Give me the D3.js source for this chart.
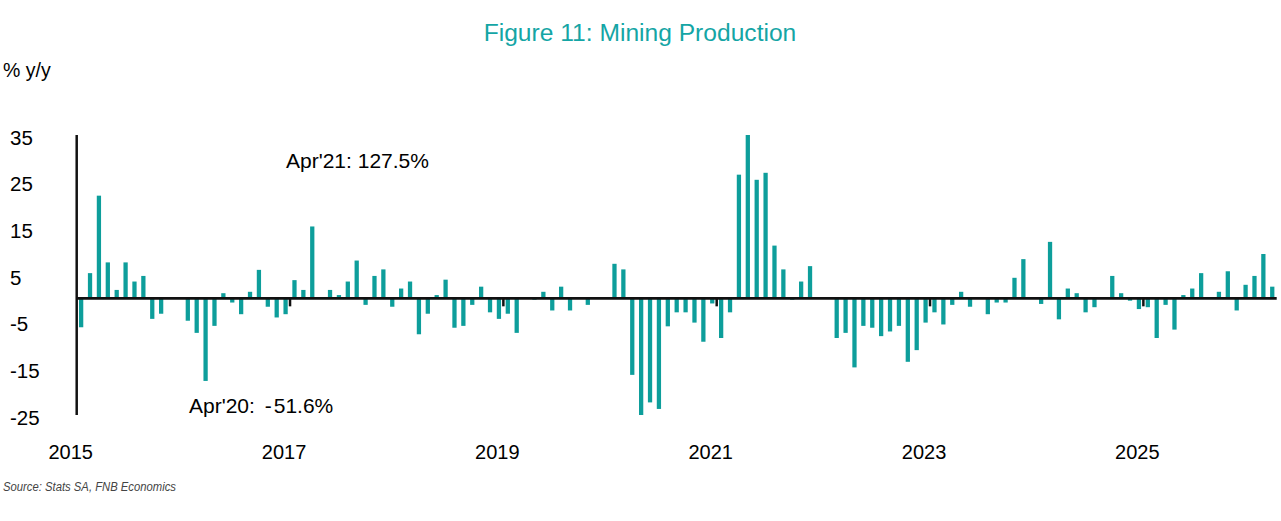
<!DOCTYPE html>
<html><head><meta charset="utf-8">
<script src="https://cdn.jsdelivr.net/npm/d3@7/dist/d3.min.js"></script>
<style>
body{margin:0;background:#fff}
svg text{font-family:"Liberation Sans",Arial,Helvetica,sans-serif}
</style>
</head><body>
<svg id="chart" width="1281" height="521"></svg>
<script>
// Monthly mining production, % y/y, Jan 2015 .. Mar 2026
const firstMonth = new Date(2015, 0, 1);
const values = [
  -6.2, 5.4, 22.0, 7.7, 1.8, 7.7, 3.6, 4.8, -4.4, -3.3, 0.2, 0.2,      // 2015
  -4.8, -7.4, -17.7, -5.9, 1.1, -0.9, -3.4, 1.4, 6.1, -1.8, -4.1, -3.4, // 2016
  3.9, 1.8, 15.4, 0.0, 1.8, 0.7, 3.6, 8.1, -1.4, 4.8, 6.2, -1.8,       // 2017
  2.1, 3.6, -7.7, -3.3, 0.7, 4.0, -6.3, -5.9, -1.4, 2.5, -3.0, -4.4,   // 2018
  -3.3, -7.4, 0.2, -0.3, 1.4, -2.6, 2.5, -2.6, 0.2, -1.4, 0.2, 0.2,    // 2019
  7.4, 6.2, -16.4, -51.6, -22.3, -23.7, -6.0, -3.0, -3.0, -5.2, -9.3, -1.1, // 2020
  -8.5, -3.0, 26.5, 127.5, 25.4, 26.9, 11.3, 6.2, -0.3, 3.6, 6.9, 0.2, // 2021
  0.2, -8.5, -7.4, -14.8, -5.9, -6.3, -8.1, -7.1, -5.9, -13.6, -11.1, -5.2, // 2022
  -3.0, -5.6, -1.4, 1.4, -1.8, 0.2, -3.4, -0.9, -0.9, 4.4, 8.4, 0.2,   // 2023
  -1.2, 12.1, -4.5, 2.1, 1.1, -3.0, -1.9, 0.2, 4.8, 1.1, -0.5, -2.3,   // 2024
  -1.9, -8.5, -1.4, -6.7, 0.7, 2.1, 5.4, 0.2, 1.4, 5.8, -2.6, 2.9,     // 2025
  4.8, 9.5, 2.5                                                        // 2026
];
const months = values.map((v, i) => d3.timeMonth.offset(firstMonth, i));
const yTicks = [35, 25, 15, 5, -5, -15, -25];
const xTickYears = [2015, 2017, 2019, 2021, 2023, 2025];
const yDomain = [-25, 35];
const titleText = "Figure 11: Mining Production";
const unitText = "% y/y";
const sourceText = "Source: Stats SA, FNB Economics";
const notes = [
  {parts: ["Apr'21:", " 127.5%"], x: 286, y: 168, gaps: [0, 0]},
  {parts: ["Apr'20:", " -", "51.6%"], x: 189, y: 413, gaps: [0, 4, 2]}
];

const teal = "#0d9e9b";
const svg = d3.select("#chart");

const x = d3.scaleBand()
  .domain(d3.range(values.length))
  .range([76.7, 1276.7])
  .paddingInner(0.52)
  .paddingOuter(0.26);
const y = d3.scaleLinear().domain(yDomain).range([415, 135]);
const clip = v => Math.max(yDomain[0], Math.min(yDomain[1], v));
const x0 = x.range()[0];
const step = x.step();

// title & unit
svg.append("text").attr("x", 640).attr("y", 41).attr("text-anchor", "middle")
  .attr("font-size", 24.6).attr("fill", "#14a5a5").text(titleText);
svg.append("text").attr("x", 3).attr("y", 77).attr("font-size", 19.5)
  .attr("fill", "#000").text(unitText);

// bars
svg.append("g").selectAll("rect").data(values).join("rect")
  .attr("x", (d, i) => x(i))
  .attr("width", x.bandwidth())
  .attr("y", d => y(Math.max(0, clip(d))))
  .attr("height", d => Math.abs(y(clip(d)) - y(0)))
  .attr("fill", teal);

// y axis line
svg.append("line").attr("x1", x0).attr("x2", x0)
  .attr("y1", y(yDomain[1])).attr("y2", y(yDomain[0]))
  .attr("stroke", "#111").attr("stroke-width", 2.5);
// zero line
svg.append("line").attr("x1", x0).attr("x2", x.range()[1])
  .attr("y1", y(0)).attr("y2", y(0))
  .attr("stroke", "#111").attr("stroke-width", 2.6);

// x ticks (every 24 months)
const tickIdx = xTickYears.map(yr => months.findIndex(m => m.getFullYear() === yr && m.getMonth() === 0));
svg.append("g").selectAll("line").data(tickIdx.filter(i => i > 0)).join("line")
  .attr("x1", i => x0 + i * step).attr("x2", i => x0 + i * step)
  .attr("y1", y(0)).attr("y2", y(0) + 8)
  .attr("stroke", "#111").attr("stroke-width", 2.5);
svg.append("g").selectAll("text").data(tickIdx).join("text")
  .attr("x", i => x0 + i * step - 6)
  .attr("y", 459)
  .attr("text-anchor", "middle").attr("font-size", 20)
  .text((i, k) => xTickYears[k]);

// y tick labels
svg.append("g").selectAll("text").data(yTicks).join("text")
  .attr("x", 10).attr("y", d => y(d) + 9.5)
  .attr("font-size", 20.5)
  .text(d => d);

// annotations
notes.forEach(n => {
  const t = svg.append("text").attr("x", n.x).attr("y", n.y).attr("font-size", 21)
    .attr("xml:space", "preserve").style("white-space", "pre");
  n.parts.forEach((p, k) => t.append("tspan").attr("dx", n.gaps[k]).text(p));
});

// source
svg.append("text").attr("x", 3).attr("y", 491).attr("font-size", 12.5)
  .attr("font-style", "italic").attr("fill", "#444")
  .attr("font-family", "Lato, 'Open Sans', sans-serif")
  .attr("textLength", 173).attr("lengthAdjust", "spacingAndGlyphs")
  .text(sourceText);
</script>
</body></html>
